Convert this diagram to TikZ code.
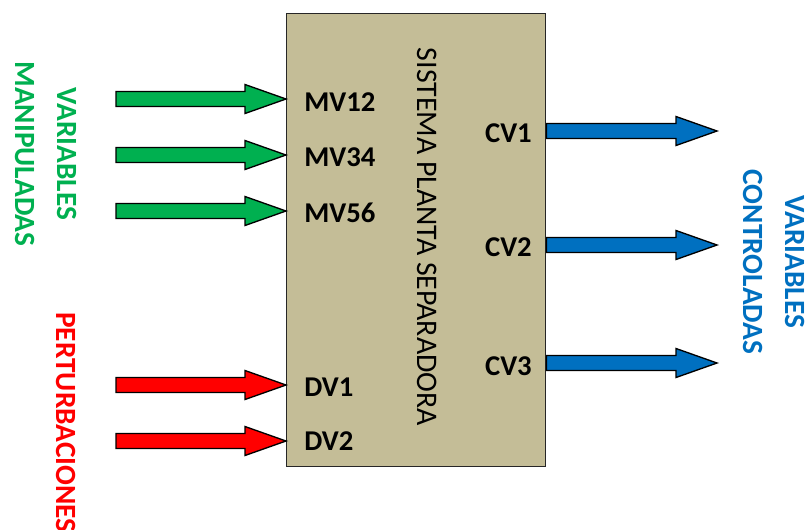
\documentclass[tikz,border=0pt]{standalone}
\usepackage{fontspec}
\setmainfont{Carlito}
\usepackage{tikz}
\usetikzlibrary{calc}
\definecolor{ColMan}{RGB}{0,176,80}
\definecolor{ColDist}{RGB}{255,0,0}
\definecolor{ColCtrl}{RGB}{0,112,192}
\definecolor{ColBox}{RGB}{196,189,151}

\tikzset{
  blockarr/.style={draw=black, line width=1pt, line join=miter},
  portlab/.style={font=\bfseries\fontsize{21.5}{24}\selectfont, inner sep=0pt},
  sidelab/.style={rotate=-90, align=center, inner sep=0pt,
    font=\bfseries\fontsize{22}{32}\selectfont}
}

% block arrow: colour, free end, tip
\newcommand{\blockarrow}[3]{%
  \filldraw[blockarr, fill=#1]
    ($(#2)+(0,-7.5)$) -- ($(#3)+(-41,-7.5)$) -- ($(#3)+(-41,-14.5)$)
    -- (#3) -- ($(#3)+(-41,14.5)$) -- ($(#3)+(-41,7.5)$)
    -- ($(#2)+(0,7.5)$) -- cycle;}

\begin{document}
\begin{tikzpicture}[x=0.75pt, y=-0.75pt]
  \useasboundingbox (0,0) rectangle (805,529);

  % Plant block
  \node[draw=black!85, line width=1.1pt, fill=ColBox, inner sep=0pt,
        minimum width=194.25pt, minimum height=339.75pt, anchor=north west]
        (sys) at (286,13) {};
  \node[rotate=-90, inner sep=0pt, font=\fontsize{22.4}{26}\selectfont]
        (title) at (427,237) {SISTEMA PLANTA SEPARADORA};

  % Free ends of the arrows
  \coordinate (mv12in) at (116,99);
  \coordinate (mv34in) at (116,155);
  \coordinate (mv56in) at (116,211);
  \coordinate (dv1in)  at (116,385);
  \coordinate (dv2in)  at (116,441);
  \coordinate (cv1out) at (717,131);
  \coordinate (cv2out) at (717,245);
  \coordinate (cv3out) at (717,363);

  % Inputs
  \blockarrow{ColMan}{mv12in}{sys.west |- mv12in}
  \blockarrow{ColMan}{mv34in}{sys.west |- mv34in}
  \blockarrow{ColMan}{mv56in}{sys.west |- mv56in}
  \blockarrow{ColDist}{dv1in}{sys.west |- dv1in}
  \blockarrow{ColDist}{dv2in}{sys.west |- dv2in}

  % Outputs
  \blockarrow{ColCtrl}{sys.east |- cv1out}{cv1out}
  \blockarrow{ColCtrl}{sys.east |- cv2out}{cv2out}
  \blockarrow{ColCtrl}{sys.east |- cv3out}{cv3out}

  % Port labels
  \node[portlab, anchor=west] (mv12) at (304,102) {MV12};
  \node[portlab, anchor=west] (mv34) at (304,157) {MV34};
  \node[portlab, anchor=west] (mv56) at (304,213) {MV56};
  \node[portlab, anchor=west] (dv1)  at (304,387) {DV1};
  \node[portlab, anchor=west] (dv2)  at (304,441) {DV2};
  \node[portlab, anchor=east] (cv1)  at (532,133) {CV1};
  \node[portlab, anchor=east] (cv2)  at (532,247) {CV2};
  \node[portlab, anchor=east] (cv3)  at (532,366) {CV3};

  % Group labels
  \node[sidelab, text=ColMan]  (manlab)  at (46,154)  {VARIABLES\\MANIPULADAS};
  \node[sidelab, text=ColDist, anchor=west] (distlab) at (66,312) {PERTURBACIONES};
  \node[sidelab, text=ColCtrl] (ctrllab) at (774,262) {VARIABLES\\CONTROLADAS};
\end{tikzpicture}
\end{document}
